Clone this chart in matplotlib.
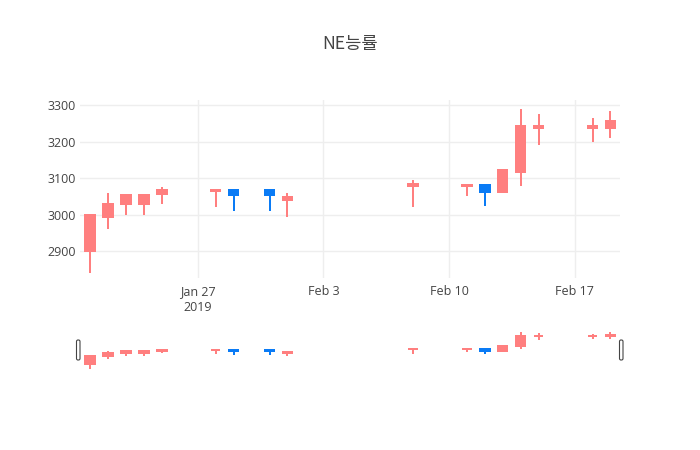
import matplotlib
matplotlib.use("Agg")
import matplotlib.pyplot as plt
import matplotlib.dates as mdates
from matplotlib.patches import FancyBboxPatch
import numpy as np
import datetime as dt

# ---- data ----
dates = ["2019-01-21", "2019-01-22", "2019-01-23", "2019-01-24", "2019-01-25",
         "2019-01-28", "2019-01-29", "2019-01-31", "2019-02-01", "2019-02-08",
         "2019-02-11", "2019-02-12", "2019-02-13", "2019-02-14", "2019-02-15",
         "2019-02-18", "2019-02-19"]
opens = [2900, 2995, 3030, 3030, 3058, 3065, 3068, 3068, 3040, 3078,
         3078, 3082, 3063, 3118, 3238, 3238, 3238]
highs = [3000, 3060, 3058, 3058, 3075, 3068, 3068, 3068, 3060, 3095,
         3083, 3082, 3122, 3290, 3275, 3265, 3285]
lows = [2840, 2960, 3000, 3000, 3030, 3020, 3010, 3010, 2995, 3020,
        3050, 3025, 3060, 3080, 3190, 3200, 3210]
closes = [3000, 3030, 3055, 3055, 3068, 3068, 3053, 3053, 3048, 3083,
          3082, 3063, 3122, 3242, 3243, 3243, 3257]
title = "NE능률"
yticks = [2900, 3000, 3100, 3200, 3300]
xtick_dates = ["2019-01-27", "2019-02-03", "2019-02-10", "2019-02-17"]
xtick_labels = ["Jan 27\n2019", "Feb 3", "Feb 10", "Feb 17"]

UP = "#FF7F7F"
DOWN = "#0A7BF5"
TXT = "#444444"
GRID = "#EEEEEE"

plt.rcParams["font.family"] = ["Open Sans", "Noto Sans CJK KR", "DejaVu Sans"]

x = mdates.date2num([dt.datetime.strptime(d, "%Y-%m-%d") for d in dates])
xt = mdates.date2num([dt.datetime.strptime(d, "%Y-%m-%d") for d in xtick_dates])

W, H = 700, 450
fig = plt.figure(figsize=(7, 4.5), dpi=100)
ax = fig.add_axes([80 / W, (H - 278) / H, 540 / W, 178 / H])
sl = fig.add_axes([80 / W, (H - 370) / H, 540 / W, 40 / H])

xlim = (x[0] - 0.56, x[-1] + 0.53)
ylim = (2827, 3314)
bw = 0.52
lw = 1.44


def draw(a):
    for xi, o, h, l, c in zip(x, opens, highs, lows, closes):
        col = UP if c >= o else DOWN
        a.vlines(xi, l, h, color=col, lw=lw, zorder=3)
        lo, hi = min(o, c), max(o, c)
        a.bar(xi, hi - lo, bottom=lo, width=bw, color=col, edgecolor=col,
              linewidth=lw, zorder=4)
    a.set_xlim(*xlim)
    a.set_ylim(*ylim)
    for s in a.spines.values():
        s.set_visible(False)


draw(ax)
draw(sl)

ax.set_yticks(yticks)
ax.set_yticklabels([str(v) for v in yticks])
ax.set_xticks(xt)
ax.set_xticklabels(xtick_labels)
ax.tick_params(length=0, labelsize=9, colors=TXT)
ax.tick_params(axis="x", pad=5)
ax.tick_params(axis="y", pad=3)
for lbl in ax.get_xticklabels():
    lbl.set_linespacing(1.35)
ax.grid(True, color=GRID, lw=1)
ax.set_axisbelow(True)

sl.set_xticks([])
sl.set_yticks([])

# range slider handles
for hx in (76.5, 619.5):
    p = FancyBboxPatch(((hx) / 100, (H - 360) / 100), 0.035, 0.2,
                       boxstyle="round,pad=0,rounding_size=0.015",
                       transform=fig.dpi_scale_trans, facecolor="white",
                       edgecolor=TXT, linewidth=0.8)
    fig.add_artist(p)

fig.text(350 / W, 1 - 44 / H, title, ha="center", va="center",
         fontsize=12.75, color=TXT,
         family=["Noto Sans CJK KR", "Open Sans", "DejaVu Sans"])

fig.savefig("out.png", dpi=100, facecolor="white")
